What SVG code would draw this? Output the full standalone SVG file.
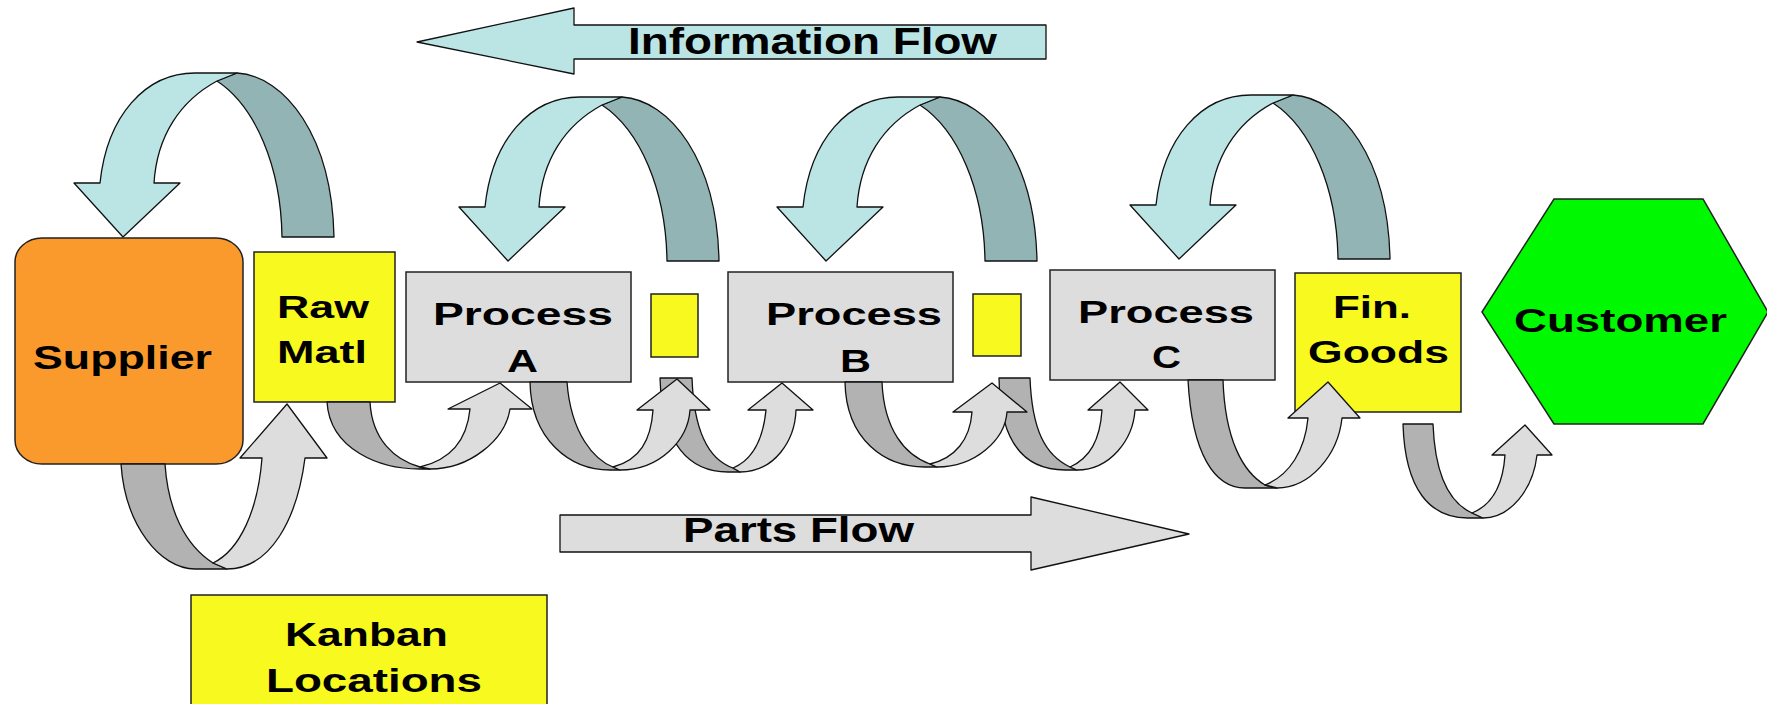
<svg xmlns="http://www.w3.org/2000/svg" xmlns:xlink="http://www.w3.org/1999/xlink" width="1767" height="704" viewBox="0 0 1767 704">
<style>
  .txt { font-family: "Liberation Sans", Arial, sans-serif; font-weight: bold; fill: #000; }
  .box { stroke: #222; stroke-width: 1.5; }
  .proc { fill: #DDDDDD; }
  .yel { fill: #F7F91F; }
  .ln { stroke: #111; stroke-width: 1.3; stroke-linejoin: round; }
  .iLight { fill: #BBE5E5; }
  .iDark { fill: #93B4B4; }
  .pLight { fill: #DDDDDD; }
  .pDark { fill: #B2B2B2; }
</style>
<defs>
  <g id="infoLoop">
    <path class="iDark ln" d="M 622,97 C 670,100 717,160 719,261 L 667,261 C 666,190 640,130 602,105 Z"/>
    <path class="iLight ln" d="M 459,207 L 485,207 C 492,140 530,97 580,97 L 622,97 L 602,105 C 565,125 542,160 539,207 L 565,207 L 508,261 Z"/>
  </g>
</defs>
<rect width="1767" height="704" fill="#FFFFFF"/>

<g id="information-flow">
  <path class="iLight ln" d="M 417,42 L 574,8 L 574,25 L 1046,25 L 1046,59 L 574,59 L 574,74 Z"/>
  <text class="txt" x="628" y="54" font-size="36" textLength="369" lengthAdjust="spacingAndGlyphs">Information Flow</text>
</g>

<g id="parts-flow">
  <path class="pLight ln" d="M 560,515 L 1031,515 L 1031,497 L 1189,534 L 1031,570 L 1031,552 L 560,552 Z"/>
  <text class="txt" x="683" y="542" font-size="35" textLength="231" lengthAdjust="spacingAndGlyphs">Parts Flow</text>
</g>

<g id="info-loops">
  <use xlink:href="#infoLoop" href="#infoLoop" transform="translate(-385,-24)"/>
  <use xlink:href="#infoLoop" href="#infoLoop"/>
  <use xlink:href="#infoLoop" href="#infoLoop" transform="translate(318,0)"/>
  <use xlink:href="#infoLoop" href="#infoLoop" transform="translate(671,-2)"/>
</g>

<g id="supplier">
  <rect class="box" x="15" y="238" width="228" height="226" rx="27" ry="24" fill="#FA9A2D"/>
  <text class="txt" x="33" y="369" font-size="33" textLength="179" lengthAdjust="spacingAndGlyphs">Supplier</text>
</g>
<g id="raw-matl">
  <rect class="box yel" x="254" y="252" width="141" height="150"/>
  <text class="txt" x="277" y="318" font-size="31" textLength="92" lengthAdjust="spacingAndGlyphs">Raw</text>
  <text class="txt" x="277" y="363" font-size="31" textLength="90" lengthAdjust="spacingAndGlyphs">Matl</text>
</g>
<g id="process-a">
  <rect class="box proc" x="406" y="272" width="225" height="110"/>
  <text class="txt" x="433" y="325" font-size="32" textLength="180" lengthAdjust="spacingAndGlyphs">Process</text>
  <text class="txt" x="507" y="372" font-size="32" textLength="31" lengthAdjust="spacingAndGlyphs">A</text>
</g>
<g id="kanban-1">
  <rect class="box yel" x="651" y="294" width="47" height="63"/>
</g>
<g id="process-b">
  <rect class="box proc" x="728" y="272" width="225" height="110"/>
  <text class="txt" x="766" y="325" font-size="32" textLength="176" lengthAdjust="spacingAndGlyphs">Process</text>
  <text class="txt" x="840" y="372" font-size="32" textLength="31" lengthAdjust="spacingAndGlyphs">B</text>
</g>
<g id="kanban-2">
  <rect class="box yel" x="973" y="294" width="48" height="62"/>
</g>
<g id="process-c">
  <rect class="box proc" x="1050" y="270" width="225" height="110"/>
  <text class="txt" x="1078" y="323" font-size="32" textLength="176" lengthAdjust="spacingAndGlyphs">Process</text>
  <text class="txt" x="1152" y="368" font-size="32" textLength="29" lengthAdjust="spacingAndGlyphs">C</text>
</g>
<g id="fin-goods">
  <rect class="box yel" x="1295" y="273" width="166" height="139"/>
  <text class="txt" x="1333" y="318" font-size="32" textLength="78" lengthAdjust="spacingAndGlyphs">Fin.</text>
  <text class="txt" x="1308" y="363" font-size="32" textLength="141" lengthAdjust="spacingAndGlyphs">Goods</text>
</g>
<g id="customer">
  <path class="box" fill="#00F800" d="M 1482,312 L 1554,199 L 1703,199 L 1768,312 L 1703,424 L 1554,424 Z"/>
  <text class="txt" x="1514" y="332" font-size="33" textLength="213" lengthAdjust="spacingAndGlyphs">Customer</text>
</g>
<g id="kanban-locations">
  <rect class="box yel" x="191" y="595" width="356" height="120"/>
  <text class="txt" x="285" y="646" font-size="33" textLength="163" lengthAdjust="spacingAndGlyphs">Kanban</text>
  <text class="txt" x="266" y="692" font-size="33" textLength="216" lengthAdjust="spacingAndGlyphs">Locations</text>
</g>

<g id="connectors">
  <g id="loop-supplier-raw">
    <path class="pDark ln" d="M 121,464 L 165,464 C 168,510 185,545 213,563 L 227,569 L 195,569 C 160,569 125,525 121,464 Z"/>
    <path class="pLight ln" d="M 213,563 L 227,569 C 270,569 297,520 305,458 L 327,458 L 287,404 L 240,458 L 262,458 C 258,510 240,550 213,563 Z"/>
  </g>
  <g id="loop-raw-a">
    <path class="pDark ln" d="M 327,402 L 370,402 C 372,440 395,460 420,467 L 430,469 L 420,469 C 380,469 330,450 327,402 Z"/>
    <path class="pLight ln" d="M 420,467 L 430,469 C 470,469 505,440 510,409 L 532,409 L 500,383 L 448,409 L 470,409 C 467,440 450,460 420,467 Z"/>
  </g>
  <g id="loop-k1-b">
    <path class="pDark ln" d="M 660,378 L 692,378 C 694,435 710,460 733,468 L 740,472 L 728,472 C 690,472 662,445 660,378 Z"/>
    <path class="pLight ln" d="M 733,468 L 740,472 C 775,472 795,440 796,410 L 813,410 L 782,383 L 748,410 L 766,410 C 763,440 752,460 733,468 Z"/>
  </g>
  <g id="loop-a-k1">
    <path class="pDark ln" d="M 530,382 L 567,382 C 571,435 595,460 613,467 L 620,470 L 610,470 C 570,470 531,440 530,382 Z"/>
    <path class="pLight ln" d="M 613,467 L 620,470 C 660,470 688,440 690,410 L 710,410 L 677,379 L 637,410 L 653,410 C 651,440 640,460 613,467 Z"/>
  </g>
  <g id="loop-k2-c">
    <path class="pDark ln" d="M 999,378 L 1030,378 C 1032,430 1045,455 1070,467 L 1077,470 L 1065,470 C 1030,470 1000,450 999,378 Z"/>
    <path class="pLight ln" d="M 1070,467 L 1077,470 C 1110,470 1133,440 1135,410 L 1148,410 L 1120,382 L 1088,410 L 1102,410 C 1100,440 1090,458 1070,467 Z"/>
  </g>
  <g id="loop-b-k2">
    <path class="pDark ln" d="M 845,382 L 882,382 C 884,430 905,455 930,464 L 937,467 L 925,467 C 885,467 846,440 845,382 Z"/>
    <path class="pLight ln" d="M 930,464 L 937,467 C 975,467 1005,440 1007,412 L 1027,412 L 992,383 L 953,412 L 972,412 C 970,440 955,458 930,464 Z"/>
  </g>
  <g id="loop-c-fg">
    <path class="pDark ln" d="M 1188,380 L 1223,380 C 1225,440 1243,472 1265,485 L 1277,488 L 1245,488 C 1215,488 1192,455 1188,380 Z"/>
    <path class="pLight ln" d="M 1265,485 L 1277,488 C 1310,488 1338,455 1342,418 L 1360,418 L 1328,382 L 1288,418 L 1308,418 C 1305,450 1290,475 1265,485 Z"/>
  </g>
  <g id="loop-fg-customer">
    <path class="pDark ln" d="M 1403,424 L 1433,424 C 1435,475 1450,503 1472,513 L 1483,518 L 1468,518 C 1430,518 1405,490 1403,424 Z"/>
    <path class="pLight ln" d="M 1472,513 L 1483,518 C 1510,518 1533,490 1537,455 L 1552,455 L 1525,425 L 1492,455 L 1505,455 C 1503,485 1492,505 1472,513 Z"/>
  </g>
</g>
</svg>
